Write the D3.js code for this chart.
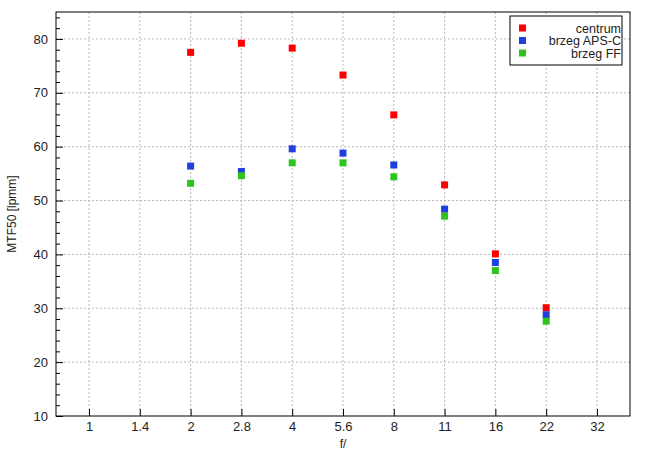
<!DOCTYPE html>
<html><head><meta charset="utf-8">
<script src="https://cdn.jsdelivr.net/npm/d3@7"></script>
<style>body{margin:0;background:#fff}text{font-family:"Liberation Sans",Arial,sans-serif;fill:#222}</style>
</head><body><svg id="c" width="655" height="455"></svg>
<script>
var fStops = ["1", "1.4", "2", "2.8", "4", "5.6", "8", "11", "16", "22", "32"];
var seriesNames = ["centrum", "brzeg APS-C", "brzeg FF"];
var colors = ["#ff0000", "#1f3fe0", "#2ec41e"];
var measuredStops = ["2", "2.8", "4", "5.6", "8", "11", "16", "22"];
var centrum = [77.5, 79.2, 78.3, 73.3, 65.9, 52.9, 40.1, 30.1];
var apsc = [56.4, 55.4, 59.6, 58.8, 56.6, 48.4, 38.5, 28.8];
var ff = [53.2, 54.6, 57.0, 57.0, 54.4, 47.1, 37.0, 27.6];
var yTicks = [10, 20, 30, 40, 50, 60, 70, 80];

var svg = d3.select("#c");
var L = 56, R = 630, T = 12, B = 416;
var x = d3.scaleLinear().domain([-0.65, 10.65]).range([L, R]);
var y = d3.scaleLinear().domain([10, 85]).range([B, T]);
var xi = function (s) { return x(fStops.indexOf(s)); };

var g = svg.append("g");
// grid
g.selectAll(".gx").data(fStops).enter().append("line")
  .attr("x1", xi).attr("x2", xi).attr("y1", T).attr("y2", B)
  .attr("stroke", "#b8b8b8").attr("stroke-dasharray", "2,2");
g.selectAll(".gy").data(yTicks.slice(1)).enter().append("line")
  .attr("x1", L).attr("x2", R).attr("y1", y).attr("y2", y)
  .attr("stroke", "#b8b8b8").attr("stroke-dasharray", "2,2");

// axes
svg.append("g").attr("transform", "translate(" + L + ",0)")
  .call(d3.axisLeft(y).tickValues(yTicks).tickSize(-7).tickPadding(8));
svg.append("g").attr("transform", "translate(" + L + ",0)")
  .call(d3.axisLeft(y).tickValues(d3.range(12, 85, 2).filter(function (v) { return v % 10; })).tickSize(-4).tickFormat(""));
svg.append("g").attr("transform", "translate(0," + B + ")")
  .call(d3.axisBottom(x).tickValues(d3.range(fStops.length)).tickFormat(function (i) { return fStops[i]; }).tickSize(-7).tickPadding(6));
svg.selectAll(".domain").remove();
svg.selectAll(".tick line").attr("stroke", "#000");
svg.selectAll(".tick text").style("font-size", "13px").attr("fill", "#222");
svg.append("rect").attr("x", L).attr("y", T).attr("width", R - L).attr("height", B - T)
  .attr("fill", "none").attr("stroke", "#000");

// points
[centrum, apsc, ff].forEach(function (vals, k) {
  svg.append("g").selectAll("rect").data(vals).enter().append("rect")
    .attr("x", function (d, i) { return xi(measuredStops[i]) - 3.5; })
    .attr("y", function (d) { return y(d) - 3.5; })
    .attr("width", 7).attr("height", 7).attr("fill", colors[k]);
});

// labels
svg.append("text").attr("x", (L + R) / 2).attr("y", 448).attr("text-anchor", "middle")
  .style("font-size", "12px").text("f/");
svg.append("text").attr("transform", "translate(16," + (T + B) / 2 + ") rotate(-90)")
  .attr("text-anchor", "middle").style("font-size", "12px").text("MTF50 [lpmm]");

// legend
var lg = svg.append("g");
lg.append("rect").attr("x", 510).attr("y", 16).attr("width", 112).attr("height", 49)
  .attr("fill", "#fff").attr("stroke", "#000");
seriesNames.forEach(function (n, k) {
  var cy = 28 + k * 12.5;
  lg.append("rect").attr("x", 519).attr("y", cy - 3.5).attr("width", 7).attr("height", 7).attr("fill", colors[k]);
  lg.append("text").attr("x", 621).attr("y", cy + 4.5).attr("text-anchor", "end")
    .style("font-size", "12.5px").text(n);
});
</script></body></html>
